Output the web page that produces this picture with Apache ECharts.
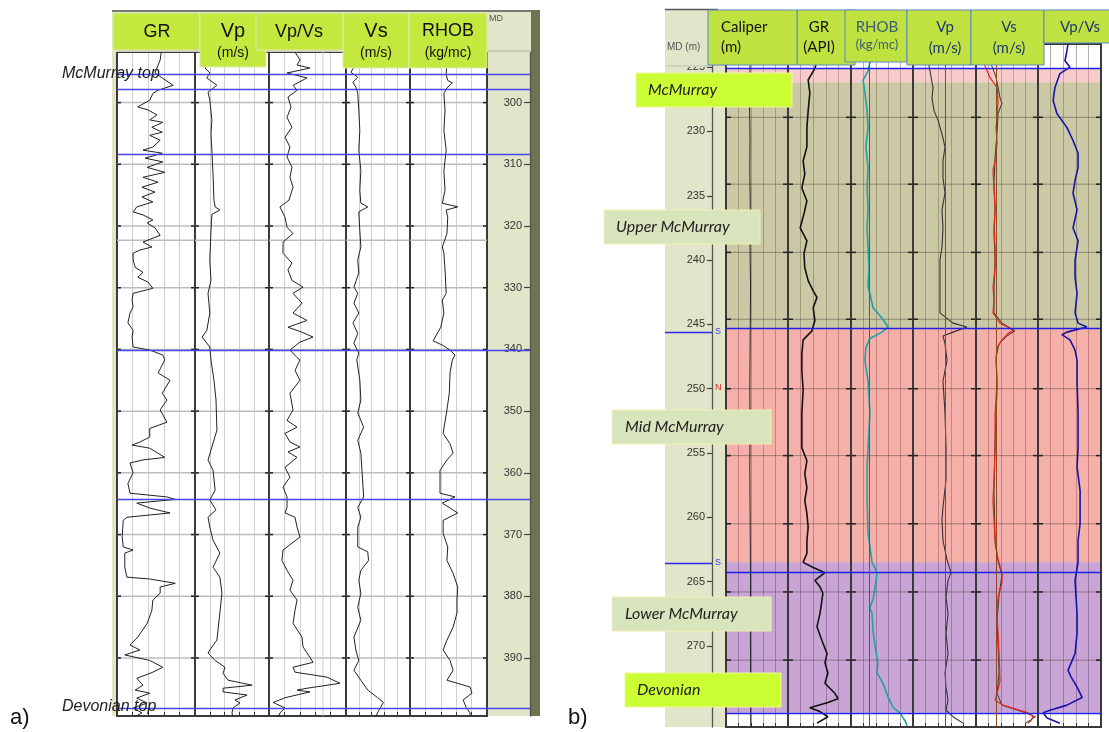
<!DOCTYPE html>
<html><head><meta charset="utf-8">
<script src="https://cdn.jsdelivr.net/npm/echarts@6/dist/echarts.min.js"></script>
<style>html,body{margin:0;padding:0;background:#fff}#c{width:1109px;height:732px}</style>
</head><body><div id="c"></div>
<script>
// ================= DATA =================
// Panel a) depth (m) ticks, gridlines, tops
const depthTicksA = [300,310,320,330,340,350,360,370,380,390];
const gridDepthsA = [300,310,320,330,340,350,360,370,380,390];
const extraLinesA = [322.3];
const topsA = [295.4,297.8,308.3,340.2,364.2,398.1];
const vpvsExtraA = [4.5];
// Panel a) curves  [depth m, value]
const grA = [[291.8,85],[293.1,83],[295.2,73],[297.2,108],[298.0,79],[298.5,69],[299.6,63],[300.7,40],[301.2,60],[302.0,77],[302.8,63],[303.2,88],[304.0,67],[304.8,87],[305.3,63],[306.1,83],[307.2,69],[307.7,50],[308.2,87],[309.0,54],[309.6,88],[310.5,58],[311.3,92],[312.1,50],[312.9,79],[313.7,48],[314.5,73],[315.3,48],[316.1,69],[316.9,38],[317.7,31],[318.2,50],[319.0,69],[319.5,58],[320.3,73],[321.5,83],[322.6,50],[323.4,67],[323.9,44],[324.4,31],[325.5,31],[326.7,35],[327.5,50],[328.3,40],[329.1,60],[330.1,69],[330.9,31],[332.0,29],[333.1,31],[334.1,25],[335.7,21],[336.9,31],[338.0,29],[339.6,31],[340.1,63],[340.9,88],[341.7,92],[343.8,79],[345.0,102],[347.1,87],[348.2,96],[349.8,83],[351.8,96],[352.8,63],[354.2,63],[355.0,44],[355.5,29],[356.0,63],[357.5,92],[357.9,50],[358.4,25],[360.0,31],[361.7,21],[363.3,25],[363.9,96],[364.3,112],[364.9,38],[365.7,63],[366.5,102],[367.2,19],[367.7,12],[370.4,10],[372.0,12],[372.5,31],[373.0,15],[375.3,15],[376.9,19],[377.2,63],[377.9,112],[378.5,83],[379.5,83],[380.6,69],[382.3,67],[384.4,58],[386.6,40],[387.9,25],[388.7,44],[389.5,15],[390.4,63],[391.5,88],[392.3,69],[393.3,38],[394.4,50],[395.2,35],[395.7,63],[396.5,38],[397.3,58],[398.1,31],[398.9,48],[399.7,31]];
const vpA = [[291.8,2000],[293.1,2070],[294.4,1840],[295.2,2000],[296.0,1900],[297.2,2240],[298.3,1940],[299.6,2000],[302.8,2070],[305.0,2040],[307.7,2070],[311.8,2110],[315.8,2140],[316.9,2180],[317.4,2340],[318.1,2070],[320.7,2040],[325.5,2000],[328.8,2040],[330.9,1940],[334.1,2000],[336.9,1900],[338.0,1740],[339.6,2000],[341.7,2040],[345.0,2140],[348.2,2210],[353.1,2240],[357.9,1940],[359.6,2110],[362.8,2180],[364.4,2000],[366.0,2210],[367.2,1940],[368.8,2000],[370.9,2110],[373.0,2340],[375.3,2110],[376.9,2340],[379.5,2410],[382.7,2340],[387.1,2240],[388.7,2000],[389.2,1940],[390.4,2180],[391.5,2510],[392.5,2450],[393.6,2620],[394.4,3430],[394.9,2450],[395.5,2450],[396.0,3260],[396.8,2850],[397.3,3020],[398.1,2780],[398.9,2750],[399.7,2780]];
const vpvsA = [[291.8,2.69],[293.1,3.01],[293.9,2.82],[294.4,3.66],[295.2,2.17],[296.0,3.47],[297.2,2.56],[298.0,2.82],[299.1,2.23],[300.7,2.43],[302.4,2.17],[304.0,2.49],[305.6,2.04],[307.2,2.36],[308.8,2.17],[310.5,2.49],[312.1,2.36],[313.7,2.56],[315.8,2.30],[316.9,1.71],[318.6,2.04],[320.2,2.17],[321.2,2.56],[322.6,1.91],[324.4,1.91],[326.0,2.49],[327.1,2.23],[328.8,2.49],[329.9,3.21],[330.9,2.56],[332.5,3.14],[334.1,2.56],[335.3,3.47],[336.4,2.23],[337.2,3.14],[338.0,3.86],[338.8,3.01],[340.1,2.36],[341.3,2.82],[341.7,3.01],[343.4,2.69],[345.0,3.01],[347.1,2.36],[349.8,2.56],[351.5,2.17],[352.6,2.82],[353.6,2.04],[355.0,2.36],[355.8,3.01],[356.6,2.23],[357.5,2.82],[359.1,2.04],[360.7,2.36],[362.3,1.91],[363.9,2.17],[365.6,2.17],[366.5,2.04],[367.2,2.69],[368.8,2.82],[370.4,3.01],[372.5,1.91],[374.2,1.84],[375.8,2.17],[377.4,2.56],[379.0,2.36],[380.6,2.82],[382.3,2.69],[384.4,2.56],[386.6,3.14],[388.2,3.21],[389.9,3.66],[390.7,3.86],[391.5,2.56],[392.3,2.69],[393.1,4.76],[394.1,5.61],[394.9,3.47],[395.2,2.82],[395.5,3.66],[396.4,2.10],[397.2,1.26],[398.1,2.04],[398.9,1.71],[399.7,1.58]];
const vsA = [[291.8,770],[293.1,690],[294.2,810],[295.1,690],[295.9,960],[296.7,770],[297.5,885],[298.5,960],[301.2,1000],[304.5,1040],[307.7,1000],[311.0,1080],[314.2,1040],[316.3,1080],[316.9,1350],[317.7,1000],[320.7,1040],[323.4,1080],[325.5,960],[327.6,1000],[329.9,810],[330.9,960],[332.5,810],[334.1,1000],[335.7,770],[337.4,960],[339.0,810],[340.6,1000],[341.7,920],[345.0,1040],[348.2,1080],[350.3,960],[352.6,1190],[354.7,960],[356.8,1080],[363.9,1190],[365.6,960],[367.2,1080],[368.8,960],[372.0,960],[372.8,1350],[374.2,1380],[375.8,1080],[377.4,1000],[379.5,1080],[381.8,960],[383.9,1080],[386.6,810],[388.7,885],[390.4,1000],[392.0,810],[393.6,1080],[395.2,1350],[396.4,1730],[397.2,1960],[398.0,1850],[398.9,1730],[399.7,1650]];
const rhobA = [[291.8,2280],[293.1,2280],[295.5,2270],[296.4,2290],[296.8,2350],[297.6,2280],[298.5,2240],[301.2,2255],[304.5,2240],[307.7,2270],[311.0,2240],[314.2,2255],[316.3,2220],[316.9,2420],[317.4,2270],[318.6,2290],[321.2,2280],[323.4,2220],[324.4,2240],[327.1,2255],[330.9,2270],[332.0,2220],[334.1,2240],[336.4,2200],[338.6,2100],[339.3,2220],[340.1,2320],[340.9,2385],[341.7,2350],[343.8,2320],[347.1,2310],[349.8,2280],[353.6,2230],[355.3,2320],[356.8,2360],[357.9,2280],[359.6,2190],[363.3,2190],[363.9,2385],[364.9,2220],[366.5,2420],[367.7,2230],[369.8,2230],[372.0,2290],[374.2,2280],[376.3,2360],[378.5,2420],[380.6,2410],[382.7,2410],[385.0,2360],[387.1,2280],[388.7,2230],[390.4,2320],[392.0,2360],[393.6,2280],[394.7,2580],[395.7,2605],[396.8,2490],[398.0,2530],[398.9,2580],[399.7,2580]];

// Panel b) depth ticks, gridlines, tops, zones
const depthTicksB = [225,230,235,240,245,250,255,260,265,270];
const gridDepthsB = [228.9,234.1,239.4,244.6,250.0,255.2,260.5,265.8,271.1];
const topsB = [225.1,245.3,264.3,275.2];
const picksB = [245.6,263.6];
const zonesB = [[225.1,226.2],[226.2,245.3],[245.3,263.5],[263.5,275.2]];
const zoneNamesB = ['McMurray','Upper McMurray','Mid McMurray','Lower McMurray','Devonian'];
const rhobCutB = [2090];
const vpCutB = [2770];
const vsCutB = [1300];
// Panel b) curves [depth m, value]
const calB = [[223.2,0.196],[225.5,0.197],[228,0.195],[230.5,0.197],[233,0.196],[236,0.198],[239,0.197],[242,0.199],[245,0.198],[247.5,0.197],[250,0.196],[253,0.197],[256,0.196],[259,0.197],[262,0.198],[265,0.199],[268,0.198],[271,0.199],[274,0.199],[276.3,0.200]];
const grB = [[223.2,76],[224.5,69],[225.1,64],[226.0,48],[227.0,52],[228.4,48],[229.7,45],[231.2,45],[232.3,36],[233.3,40],[234.4,33],[235.4,45],[236.4,38],[237.5,29],[238.5,45],[239.5,38],[240.6,40],[241.6,48],[242.4,60],[242.9,69],[243.7,60],[244.7,64],[245.5,57],[246.2,36],[247.3,33],[248.6,33],[250.1,36],[251.9,33],[254.6,33],[255.6,45],[256.6,40],[257.7,45],[258.7,40],[259.7,45],[260.8,48],[261.8,45],[262.8,45],[263.5,36],[263.9,60],[264.3,88],[264.9,64],[265.4,76],[265.9,83],[266.4,81],[267.5,76],[268.5,69],[269.6,81],[270.6,93],[271.3,88],[272.1,95],[272.9,88],[273.7,112],[274.1,119],[274.4,95],[274.8,52],[275.1,76],[275.5,95],[276.0,69]];
const rhobB = [[223.2,2140],[224.5,2110],[225.3,2075],[226.0,1995],[227.0,2025],[228.4,2060],[229.7,2075],[231.2,2040],[232.8,2075],[234.4,2060],[235.9,2075],[237.5,2060],[239.0,2075],[240.6,2090],[242.1,2075],[242.6,2105],[243.7,2155],[244.5,2300],[245.2,2400],[245.6,2300],[246.1,2105],[246.8,2040],[247.8,2025],[249.4,2075],[251.9,2105],[254.6,2075],[256.1,2060],[258.7,2060],[261.2,2075],[263.5,2140],[264.3,2220],[265.4,2190],[266.4,2155],[267.0,2105],[267.5,2140],[268.8,2155],[270.1,2190],[271.3,2235],[272.1,2220],[272.9,2315],[274.0,2400],[274.8,2480],[275.2,2590],[275.8,2670],[276.2,2705]];
const vpB = [[223.2,2060],[224.5,2095],[225.3,2175],[226.6,2295],[227.4,2255],[228.4,2335],[229.1,2490],[230.2,2650],[231.2,2770],[232.3,2690],[233.6,2690],[234.8,2770],[236.1,2650],[237.5,2690],[239.0,2650],[240.0,2570],[241.3,2570],[242.6,2570],[244.1,2570],[244.9,3090],[245.2,3640],[245.6,3090],[245.9,2690],[246.5,2770],[247.8,2850],[249.4,2690],[251.9,2770],[254.6,2810],[257.1,2810],[259.2,2690],[260.2,2650],[261.8,2690],[263.3,2850],[264.3,3010],[264.9,2890],[266.2,2810],[267.5,2890],[269.0,2810],[270.6,2890],[272.1,2770],[273.2,2810],[274.2,2890],[275.0,2810],[275.5,3090],[276.0,3480]];
const vsB = [[223.2,740],[224.1,780],[224.9,860],[225.8,1060],[226.6,1350],[227.6,1390],[228.9,1350],[229.7,1310],[230.9,1350],[232.3,1270],[233.0,1185],[234.4,1225],[236.1,1270],[237.5,1225],[239.0,1270],[240.6,1270],[242.1,1185],[243.1,1225],[244.1,1185],[244.9,1470],[245.3,1870],[245.5,1990],[245.7,1790],[246.2,1550],[246.8,1350],[247.8,1310],[249.4,1350],[251.9,1270],[254.6,1270],[257.1,1225],[258.7,1185],[261.8,1270],[263.3,1390],[264.3,1550],[265.1,1550],[266.2,1390],[267.5,1350],[269.0,1390],[270.6,1430],[272.7,1470],[273.7,1350],[274.2,1270],[274.6,1590],[275.0,2270],[275.2,2600],[275.5,2800],[275.8,2720],[276.0,2600]];
const vsB2 = [[223.2,940],[224.5,1060],[225.8,1310],[227.4,1470],[227.8,1550],[228.6,1390],[230,1350],[232,1270],[234,1225],[236,1270],[238,1225],[240,1270],[242,1230],[244.1,1225],[244.9,1550],[245.5,2070],[245.9,1750],[246.5,1430],[247.5,1310],[250,1350],[254,1270],[258,1225],[262,1270],[263.5,1400],[264.5,1550],[266,1430],[268,1350],[270,1390],[272,1430],[273.7,1350],[274.6,1550],[275.1,2350],[275.5,2900],[276,2500]];
const vpvsB = [[223.2,2.69],[223.7,2.65],[224.5,2.57],[225.0,2.77],[225.5,2.37],[226.6,2.17],[227.6,2.10],[228.6,2.25],[229.7,2.65],[230.7,2.89],[231.7,3.09],[232.8,3.09],[233.8,2.97],[234.8,2.89],[236.1,3.05],[237.5,2.89],[238.5,3.09],[240.0,2.97],[241.3,2.97],[242.6,3.05],[244.1,2.97],[244.9,3.09],[245.2,3.44],[245.6,2.65],[245.8,2.45],[246.2,2.77],[247.0,2.97],[247.8,3.05],[249.4,3.05],[251.9,3.09],[254.6,3.09],[256.1,3.05],[257.9,3.17],[260.5,3.17],[261.8,3.09],[263.5,3.09],[264.9,2.97],[267.5,3.05],[269.0,3.05],[270.6,2.97],[271.9,2.69],[272.4,2.81],[273.2,3.05],[274.0,3.25],[274.6,2.65],[275.0,1.98],[275.2,1.70],[275.6,1.86],[276.0,2.37]];

// ================= LAYOUT / STYLE =================
const YA = {min:291.8, max:399.4, top:52, height:664};
const YB = {min:223.2, max:276.3, top:44, height:683};
const BEIGE = '#e2e5c9';
const tracks = [
  // panel a
  {left:117,width:78,min:0,max:150,interval:30,Y:YA,curves:[[grA,'#222',1]],gl:gridDepthsA,ex:extraLinesA,tops:topsA,panel:'a'},
  {left:195,width:74,min:1500,max:4000,interval:500,Y:YA,curves:[[vpA,'#222',1]],gl:gridDepthsA,ex:extraLinesA,tops:topsA,panel:'a'},
  {left:269,width:77,min:1,max:6,interval:1,Y:YA,curves:[[vpvsA,'#222',1]],gl:gridDepthsA,ex:extraLinesA,tops:topsA,vx:vpvsExtraA,panel:'a'},
  {left:346,width:64,min:500,max:3000,interval:500,Y:YA,curves:[[vsA,'#222',1]],gl:gridDepthsA,ex:extraLinesA,tops:topsA,panel:'a'},
  {left:410,width:77,min:1800,max:2800,interval:200,Y:YA,curves:[[rhobA,'#222',1]],gl:gridDepthsA,ex:extraLinesA,tops:topsA,panel:'a'},
  // panel b
  {left:726,width:62,min:0.1,max:0.35,interval:0.05,Y:YB,curves:[[calB,'#222',1]],gl:gridDepthsB,tops:topsB,panel:'b'},
  {left:788,width:63,min:0,max:150,interval:30,Y:YB,curves:[[grB,'#111',1.6]],gl:gridDepthsB,tops:topsB,panel:'b'},
  {left:851,width:62,min:1800,max:2800,interval:200,Y:YB,curves:[[rhobB,'#1ba3a8',1.6]],gl:gridDepthsB,tops:topsB,cut:rhobCutB,panel:'b'},
  {left:913,width:63,min:1500,max:4000,interval:500,Y:YB,curves:[[vpB,'#333',1.1]],gl:gridDepthsB,tops:topsB,cut:vpCutB,panel:'b'},
  {left:976,width:62,min:500,max:3000,interval:500,Y:YB,curves:[[vsB2,'#333',1],[vsB,'#e8241c',1.2]],gl:gridDepthsB,tops:topsB,cut:vsCutB,panel:'b'},
  {left:1038,width:63,min:1.5,max:4.0,interval:0.5,Y:YB,curves:[[vpvsB,'#1414a8',1.6]],gl:gridDepthsB,tops:topsB,panel:'b'}
];
const zoneColors = ['rgba(240,140,140,0.45)','rgba(140,133,55,0.45)','rgba(230,80,65,0.45)','rgba(135,55,165,0.45)'];

const grids=[], xAxes=[], yAxes=[], series=[];
tracks.forEach((t,i)=>{
  const A = t.panel==='a';
  grids.push({left:t.left, top:t.Y.top, width:t.width, height:t.Y.height, show:true, backgroundColor:'#fff', borderWidth:0, containLabel:false});
  xAxes.push({gridIndex:i, type:'value', min:t.min, max:t.max, interval:t.interval, position:'bottom',
    axisLine:{show:false, onZero:false}, axisLabel:{show:false},
    axisTick:{show:true, inside:true, length:4, lineStyle:{color:'#333'}},
    splitLine:{show:true, lineStyle:{color: A ? '#cfcfcf' : 'rgba(60,45,45,0.38)', width:1}}});
  yAxes.push({gridIndex:i, type:'value', inverse:true, min:t.Y.min, max:t.Y.max, show:false, axisLine:{onZero:false}});
  const dec = [[t.min, t.Y.min, 2]];
  t.gl.forEach(d=>dec.push([t.min, d, 0]));
  (t.ex||[]).forEach(d=>dec.push([t.min, d, 1]));
  (t.vx||[]).forEach(v=>dec.push([v, t.Y.min, 3]));
  const lineColor = A ? '#bdbdbd' : 'rgba(60,45,45,0.42)';
  const lineW = A ? 1.5 : 1;
  series.push({type:'custom', xAxisIndex:i, yAxisIndex:i, z:3, silent:true, animation:false, data:dec,
    renderItem:function(params, api){
      const kind = api.value(2), d = api.value(1);
      if (kind===2){
        const a = api.coord([t.min, t.Y.min]), b = api.coord([t.max, t.Y.max]);
        return {type:'rect', shape:{x:a[0],y:a[1],width:b[0]-a[0],height:b[1]-a[1]}, style:{fill:null, stroke:'#3a3a3a', lineWidth:2}};
      }
      if (kind===3){
        const a = api.coord([api.value(0), t.Y.min]), b = api.coord([api.value(0), t.Y.max]);
        return {type:'line', shape:{x1:a[0],y1:a[1],x2:b[0],y2:b[1]}, style:{stroke:'#cfcfcf', lineWidth:1}};
      }
      const a = api.coord([t.min, d]), b = api.coord([t.max, d]);
      const ch = [{type:'line', shape:{x1:a[0],y1:a[1],x2:b[0],y2:b[1]}, style:{stroke:lineColor, lineWidth:lineW}}];
      if (kind===0){
        const L = A ? 4 : 5;
        ch.push({type:'line', shape:{x1:a[0],y1:a[1],x2:a[0]+L,y2:a[1]}, style:{stroke:'#222', lineWidth:1.5}});
        ch.push({type:'line', shape:{x1:b[0]-L,y1:b[1],x2:b[0],y2:b[1]}, style:{stroke:'#222', lineWidth:1.5}});
      }
      return {type:'group', children:ch};
    }});
  t.curves.forEach((c,k)=>{
    const s = {type:'line', xAxisIndex:i, yAxisIndex:i, z:4, silent:true, animation:false, symbol:'none', showSymbol:false,
      data:c[0].map(p=>[p[1],p[0]]), lineStyle:{color:c[1], width:c[2]}};
    if (k===0){
      const ml = t.tops.map(d=>({yAxis:d, lineStyle:{color: A ? '#4646f5' : '#2222e6', width:1.4, type:'solid'}}));
      (t.cut||[]).forEach(v=>ml.push({xAxis:v, lineStyle:{color:'#8a4b1c', width:1, type:'solid'}}));
      s.markLine = {silent:true, symbol:'none', label:{show:false}, animation:false, data:ml};
      if (!A){
        s.markArea = {silent:true, animation:false, data: zonesB.map((z,j)=>[{yAxis:z[0], itemStyle:{color:zoneColors[j]}},{yAxis:z[1]}])};
      }
    }
    series.push(s);
  });
});
function depthAxis(gi, Y, ticks, len, margin){
  return {gridIndex:gi, type:'value', inverse:true, min:Y.min, max:Y.max, position:'right',
    axisLine:{show:true, onZero:false, lineStyle:{color:'#555', width:1.3}},
    axisTick:{show:true, inside:true, length:len, customValues:ticks, lineStyle:{color:'#444', width:1.2}},
    axisLabel:{show:true, inside:true, margin:margin, customValues:ticks, color:'#333', fontSize:11, fontFamily:'Liberation Sans'},
    splitLine:{show:false}};
}
// depth column a)
let gi = grids.length;
grids.push({left:487, top:YA.top, width:43, height:YA.height, show:true, backgroundColor:BEIGE, borderWidth:0});
xAxes.push({gridIndex:gi, type:'value', min:1, max:2, show:false, axisLine:{onZero:false}});
yAxes.push(depthAxis(gi, YA, depthTicksA, 6, 8));
series.push({type:'line', xAxisIndex:gi, yAxisIndex:gi, data:[], silent:true, animation:false,
  markLine:{silent:true, symbol:'none', label:{show:false}, animation:false, data:topsA.map(d=>({yAxis:d, lineStyle:{color:'#4646f5', width:1.4, type:'solid'}}))}});
// depth column b)
gi = grids.length;
grids.push({left:665, top:YB.top, width:47, height:YB.height, show:true, backgroundColor:BEIGE, borderWidth:0});
xAxes.push({gridIndex:gi, type:'value', min:1, max:2, show:false, axisLine:{onZero:false}});
yAxes.push(depthAxis(gi, YB, depthTicksB, 5, 7));
series.push({type:'line', xAxisIndex:gi, yAxisIndex:gi, data:[], silent:true, animation:false,
  markLine:{silent:true, symbol:'none', label:{show:false}, animation:false, data:picksB.map(d=>({yAxis:d, lineStyle:{color:'#2a2af0', width:1.4, type:'solid'}}))}});

// ================= GRAPHIC (frame, headers, annotations) =================
const el = [];
function R(x,y,w,h,fill,stroke,z,lw){ el.push({type:'rect', z:z, silent:true, shape:{x:x,y:y,width:w,height:h}, style:{fill:fill, stroke:stroke||null, lineWidth:lw||1}}); }
function T(x,y,t,font,fill,align,z){ el.push({type:'text', z:z, silent:true, x:x, y:y, style:{text:t, font:font, fill:fill, align:align||'left', textAlign:align||'left', verticalAlign:'middle', textVerticalAlign:'middle'}}); }
function Ln(x1,y1,x2,y2,stroke,lw,z){ el.push({type:'line', z:z, silent:true, shape:{x1:x1,y1:y1,x2:x2,y2:y2}, style:{stroke:stroke, lineWidth:lw}}); }
// panel a frame
R(112,10,5,706,BEIGE,null,-1);
R(531,10,9,706,'#6f7350',null,-1);
R(487,10,44,42,BEIGE,null,-1);
R(112,10,419,42,BEIGE,null,50);
Ln(112,11,531,11,'#555',1.5,51);
Ln(117,51,531,51,'#c9cbb8',2,51);
T(489,19,'MD','9px "Liberation Sans"','#555','left',51);
const AF = '"Liberation Sans", Arial, sans-serif';
const GA = '#c5e83e', GAb = '#dfeab5';
R(113,13,87,37,GA,GAb,60);
T(157,32,'GR','18px '+AF,'#111','center',61);
R(200,13,66,54,GA,GAb,60);
T(233,31,'Vp','20px '+AF,'#111','center',61);
T(233,53,'(m/s)','14px '+AF,'#111','center',61);
R(256,13,87,37,GA,GAb,62);
T(299,32,'Vp/Vs','18px '+AF,'#111','center',63);
R(343,13,66,55,GA,GAb,60);
T(376,31,'Vs','20px '+AF,'#111','center',61);
T(376,53,'(m/s)','14px '+AF,'#111','center',61);
R(409,13,78,55,GA,GAb,60);
T(448,31,'RHOB','18px '+AF,'#111','center',61);
T(448,53,'(kg/mc)','14px '+AF,'#111','center',61);
T(62,74,'McMurray top','italic 16px '+AF,'#222','left',70);
T(62,707,'Devonian top','italic 16px '+AF,'#222','left',70);
T(10,718,'a)','22px '+AF,'#111','left',70);
T(568,718,'b)','22px '+AF,'#111','left',70);
// panel b depth column frame and header
R(712,44,14,683,BEIGE,null,-1);
R(665,9,43,58,BEIGE,null,50);
Ln(665,9.5,718,9.5,'#555',1.5,51);
Ln(665,66,708,66,'#c9cbb8',1.5,51);
T(667,47,'MD (m)','10px '+AF,'#555','left',51);
const BF = 'Lato, "Open Sans", sans-serif';
const GB = '#c0e240', GBb = '#5a86c4';
R(797,10,58,55,GB,GBb,60);
T(819,27,'GR','15px '+BF,'#111','center',61);
T(819,47,'(API)','15px '+BF,'#111','center',61);
R(708,10,89,55,GB,GBb,62);
T(721,27,'Caliper','15px '+BF,'#111','left',63);
T(721,47,'(m)','15px '+BF,'#111','left',63);
R(845,10,62,52,GB,GBb,62);
T(877,27,'RHOB','15px '+BF,'#3d5f70','center',63);
T(877,45,'(kg/mc)','13px '+BF,'#3d5f70','center',63);
R(907,10,64,55,GB,GBb,62);
T(945,27,'Vp','15px '+BF,'#1f3a6e','center',63);
T(945,48,'(m/s)','15px '+BF,'#1f3a6e','center',63);
R(971,10,73,55,GB,GBb,62);
T(1009,27,'Vs','15px '+BF,'#1f3a6e','center',63);
T(1009,48,'(m/s)','15px '+BF,'#1f3a6e','center',63);
R(1044,10,66,33,GB,GBb,62);
T(1080,27,'Vp/Vs','15px '+BF,'#1f3a6e','center',63);
// depth column markers
T(715,332,'S','9px '+AF,'#3a3af0','left',52);
T(715,563,'S','9px '+AF,'#3a3af0','left',52);
T(715,388,'N','9px '+AF,'#e02020','left',52);
// zone label boxes
const LIME='#ccff33', LIMEb='#eef5a0', PALE='#d8e4bc', PALEb='#f3efb4';
const LF = 'italic 16px '+BF;
R(636,73,156,34,LIME,LIMEb,70); T(648,90,zoneNamesB[0],LF,'#222','left',71);
R(604,210,156,34,PALE,PALEb,70); T(616,227,zoneNamesB[1],LF,'#222','left',71);
R(612,410,159,34,PALE,PALEb,70); T(625,427,zoneNamesB[2],LF,'#222','left',71);
R(612,597,159,34,PALE,PALEb,70); T(625,614,zoneNamesB[3],LF,'#222','left',71);
R(625,673,156,34,LIME,LIMEb,70); T(637,690,zoneNamesB[4],LF,'#222','left',71);

const chart = echarts.init(document.getElementById('c'), null, {renderer:'canvas', width:1109, height:732});
chart.setOption({animation:false, backgroundColor:'#fff', grid:grids, xAxis:xAxes, yAxis:yAxes, series:series, graphic:{elements:el}});
</script></body></html>
